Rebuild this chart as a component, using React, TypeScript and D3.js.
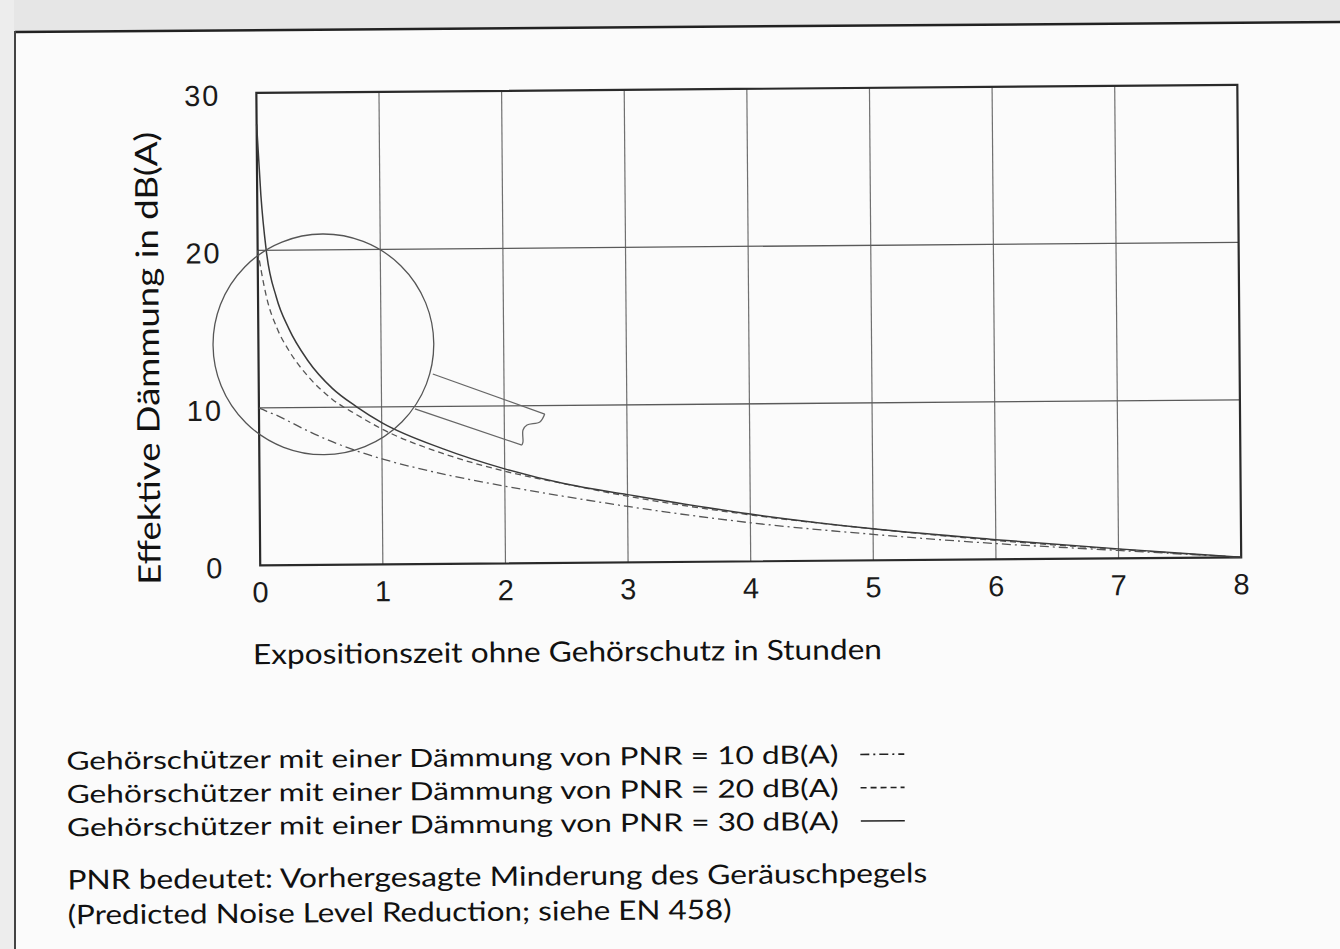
import React from "react";
import * as d3 from "d3";

// hours without hearing protection (x) and effective attenuation in dB(A) (y)
const hours = [0, 0.03, 0.07, 0.15, 0.25, 0.4, 0.6, 0.8, 1, 1.5, 2, 2.5, 3, 4, 5, 6, 7, 8];
const pnr10 = [10, 9.9, 9.75, 9.5, 9.1, 8.5, 7.8, 7.2, 6.7, 5.7, 4.9, 4.2, 3.55, 2.45, 1.65, 1.0, 0.5, 0];
const pnr20 = [20, 18.6, 17.0, 15.1, 13.6, 12.0, 10.5, 9.5, 8.6, 7.0, 5.85, 5.0, 4.2, 2.95, 2.0, 1.2, 0.57, 0];
const pnr30 = [28, 23.5, 20, 17, 15, 13, 11.2, 10, 9, 7.3, 6, 5, 4.3, 3, 2, 1.25, 0.6, 0];

const xTicks = [0, 1, 2, 3, 4, 5, 6, 7, 8];
const yTicks = [0, 10, 20, 30];

// magnifier drawn over the start of the curves (data units)
const lensCenter = [0.53, 14.0];
const handleTop = [[1.42, 12.06], [2.33, 9.46]];
const handleCap = [[2.33, 9.46], [2.29, 8.96], [2.185, 8.77], [2.152, 8.46], [2.151, 7.7], [2.142, 7.5]];
const handleBottom = [[2.142, 7.5], [1.272, 9.85]];

const legendLines = [
  "Gehörschützer mit einer Dämmung von PNR = 10 dB(A)",
  "Gehörschützer mit einer Dämmung von PNR = 20 dB(A)",
  "Gehörschützer mit einer Dämmung von PNR = 30 dB(A)",
];
const noteLines = [
  "PNR bedeutet: Vorhergesagte Minderung des Geräuschpegels",
  "(Predicted Noise Level Reduction; siehe EN 458)",
];
const noteWidths = [860, 664];

const W = 1340;
const H = 949;
const margin = { left: 259.5, right: 1240.5, top: 89.5, bottom: 562 };
const textFont = "Lato, 'Open Sans', sans-serif";
const tickFont = "'Liberation Sans', Arial, sans-serif";

const series = [
  { values: pnr10, dash: "9 4 2 4", width: 1.3, color: "#555" },
  { values: pnr20, dash: "6 4", width: 1.3, color: "#555" },
  { values: pnr30, dash: null, width: 1.5, color: "#3a3a3a" },
];

export default function App() {
  const x = d3.scaleLinear().domain([0, 8]).range([margin.left, margin.right]);
  const y = d3.scaleLinear().domain([0, 30]).range([margin.bottom, margin.top]);

  const line = d3
    .line<number>()
    .x((_, i) => x(hours[i]))
    .y((v) => y(v))
    .curve(d3.curveMonotoneX);

  const straight = d3
    .line<number[]>()
    .x((d) => x(d[0]))
    .y((d) => y(d[1]));
  const capLine = d3
    .line<number[]>()
    .x((d) => x(d[0]))
    .y((d) => y(d[1]))
    .curve(d3.curveCatmullRom);

  const lensR = x(0.9) - x(0);
  const legendY = (i: number) => 756 + i * 33.3;

  return (
    <svg
      width={W}
      height={H}
      style={{ position: "absolute", left: 0, top: 0, background: "#fbfbfb" }}
    >
      {/* scan margins */}
      <polygon points="0,0 1340,0 1340,21 0,33" fill="#e6e6e6" />
      <rect x={0} y={0} width={14} height={H} fill="#ededed" />
      <line x1={15} y1={32} x2={1340} y2={22} stroke="#222" strokeWidth={2.5} />
      <line x1={15} y1={31} x2={15} y2={H} stroke="#444" strokeWidth={2} />

      <g transform="rotate(-0.47 670 475)">
        {/* grid */}
        {xTicks.slice(1, -1).map((t) => (
          <line key={"gx" + t} x1={x(t)} x2={x(t)} y1={y(0)} y2={y(30)} stroke="#707070" strokeWidth={1.2} />
        ))}
        {yTicks.slice(1, -1).map((t) => (
          <line key={"gy" + t} x1={x(0)} x2={x(8)} y1={y(t)} y2={y(t)} stroke="#5a5a5a" strokeWidth={1.3} />
        ))}
        <rect
          x={x(0)}
          y={y(30)}
          width={x(8) - x(0)}
          height={y(0) - y(30)}
          fill="none"
          stroke="#2a2a2a"
          strokeWidth={2.2}
        />

        {/* curves */}
        {series.map((s, i) => (
          <path
            key={i}
            d={line(s.values) || ""}
            fill="none"
            stroke={s.color}
            strokeWidth={s.width}
            strokeDasharray={s.dash || undefined}
          />
        ))}

        {/* magnifier */}
        <circle cx={x(lensCenter[0])} cy={y(lensCenter[1])} r={lensR} fill="none" stroke="#555" strokeWidth={1.3} />
        <path d={straight(handleTop) || ""} fill="none" stroke="#666" strokeWidth={1.3} />
        <path d={capLine(handleCap) || ""} fill="none" stroke="#666" strokeWidth={1.3} />
        <path d={straight(handleBottom) || ""} fill="none" stroke="#666" strokeWidth={1.3} />

        {/* tick labels */}
        {yTicks.map((t) => (
          <text
            key={"ty" + t}
            x={x(0) - 36}
            y={y(t) + 2}
            dy="0.36em"
            textAnchor="end"
            fontFamily={tickFont}
            fontSize={29}
            letterSpacing={2}
            fill="#1a1a1a"
          >
            {t}
          </text>
        ))}
        {xTicks.map((t) => (
          <text
            key={"tx" + t}
            x={x(t)}
            y={y(0) + 26.5}
            dy="0.36em"
            textAnchor="middle"
            fontFamily={tickFont}
            fontSize={29}
            fill="#1a1a1a"
          >
            {t}
          </text>
        ))}

        {/* axis titles */}
        <text
          x={566}
          y={651}
          dy="0.35em"
          textAnchor="middle"
          fontFamily={textFont}
          fontSize={28}
          textLength={629}
          lengthAdjust="spacingAndGlyphs"
          fill="#111"
        >
          Expositionszeit ohne Gehörschutz in Stunden
        </text>
        <text
          transform="translate(149 354) rotate(-90)"
          dy="0.35em"
          textAnchor="middle"
          fontFamily={textFont}
          fontSize={31}
          textLength={453}
          lengthAdjust="spacingAndGlyphs"
          fill="#111"
        >
          Effektive Dämmung in dB(A)
        </text>

        {/* legend */}
        {legendLines.map((l, i) => (
          <g key={"lg" + i}>
            <text
              x={64}
              y={legendY(i)}
              dy="0.35em"
              fontFamily={textFont}
              fontSize={25}
              textLength={772}
              lengthAdjust="spacingAndGlyphs"
              fill="#111"
            >
              {l}
            </text>
            <line
              x1={858}
              x2={902}
              y1={legendY(i)}
              y2={legendY(i)}
              stroke="#222"
              strokeWidth={1.6}
              strokeDasharray={series[i].dash || undefined}
            />
          </g>
        ))}
        {noteLines.map((l, i) => (
          <text
            key={"nt" + i}
            x={64}
            y={875 + i * 35}
            dy="0.35em"
            fontFamily={textFont}
            fontSize={27}
            textLength={noteWidths[i]}
            lengthAdjust="spacingAndGlyphs"
            fill="#111"
          >
            {l}
          </text>
        ))}
      </g>
    </svg>
  );
}
